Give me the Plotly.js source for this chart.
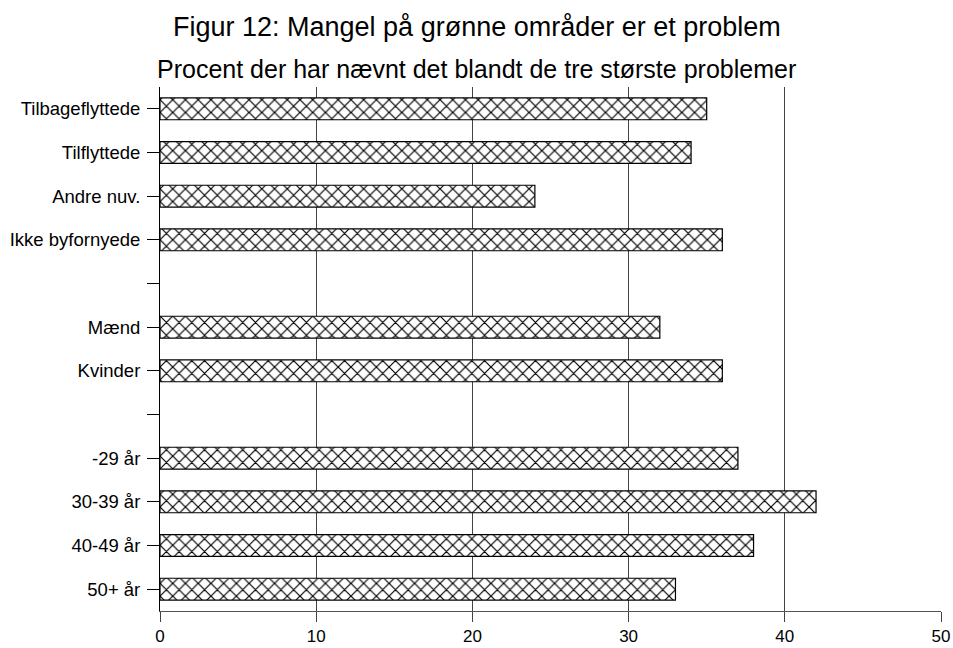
<!DOCTYPE html>
<html>
<head>
<meta charset="utf-8">
<script src="https://cdn.plot.ly/plotly-3.0.1.min.js"></script>
<style>html,body{margin:0;padding:0;background:#fff;}#chart{width:953px;height:648px;}</style>
</head>
<body>
<div id="chart"></div>
<script>
// Category labels (blank entries are the gaps between groups)
var categories = ["Tilbageflyttede", "Tilflyttede", "Andre nuv.", "Ikke byfornyede", "",
                  "Mænd", "Kvinder", "",
                  "-29 år", "30-39 år", "40-49 år", "50+ år"];
// Percent naming the problem among the three largest
var values = [35, 34, 24, 36, null, 32, 36, null, 37, 42, 38, 33];
var xTicks = [0, 10, 20, 30, 40, 50];
var titleText = "Figur 12: Mangel på grønne områder er et problem";
var subtitleText = "Procent der har nævnt det blandt de tre største problemer";

var positions = categories.map(function (c, i) { return i; });

var trace = {
  type: 'bar',
  orientation: 'h',
  x: values,
  y: positions,
  width: 0.5,
  marker: {
    color: 'white',
    line: { color: 'black', width: 1.2 },
    pattern: { shape: 'x', size: 9, solidity: 0.25, fgcolor: '#000', bgcolor: 'white' }
  },
  hoverinfo: 'x+text',
  text: categories,
  textposition: 'none'
};

var fam = '"Liberation Sans", Arial, sans-serif';
var W = 953, L = 160, R = 12;
var titleX = (W / 2 - L) / (W - L - R);

var layout = {
  width: W,
  height: 648,
  margin: { l: L, r: R, t: 87, b: 37 },
  paper_bgcolor: 'white',
  plot_bgcolor: 'white',
  showlegend: false,
  font: { family: fam, size: 18, color: '#000' },
  xaxis: {
    range: [0, 50],
    tickvals: xTicks,
    ticktext: xTicks.map(String),
    showgrid: true,
    gridcolor: '#444',
    gridwidth: 1,
    zeroline: false,
    showline: true,
    linecolor: '#555',
    linewidth: 1,
    ticks: 'outside',
    ticklen: 10,
    tickcolor: '#444',
    tickfont: { family: fam, size: 17, color: '#000' },
    fixedrange: true
  },
  yaxis: {
    range: [11.5, -0.5],
    tickvals: positions,
    ticktext: categories,
    showgrid: false,
    zeroline: false,
    showline: true,
    linecolor: '#000',
    linewidth: 1,
    ticks: 'outside',
    ticklen: 12,
    tickcolor: '#000',
    ticklabelstandoff: 3,
    tickfont: { family: fam, size: 18.5, color: '#000' },
    fixedrange: true
  },
  annotations: [
    {
      text: titleText, xref: 'paper', yref: 'paper', x: titleX, y: 1, yshift: 60,
      xanchor: 'center', yanchor: 'middle', showarrow: false,
      font: { family: fam, size: 27, color: '#000' }
    },
    {
      text: subtitleText, xref: 'paper', yref: 'paper', x: titleX, y: 1, yshift: 18.5,
      xanchor: 'center', yanchor: 'middle', showarrow: false,
      font: { family: fam, size: 25, color: '#000' }
    }
  ]
};

Plotly.newPlot('chart', [trace], layout, { displayModeBar: false, staticPlot: true });
</script>
</body>
</html>
